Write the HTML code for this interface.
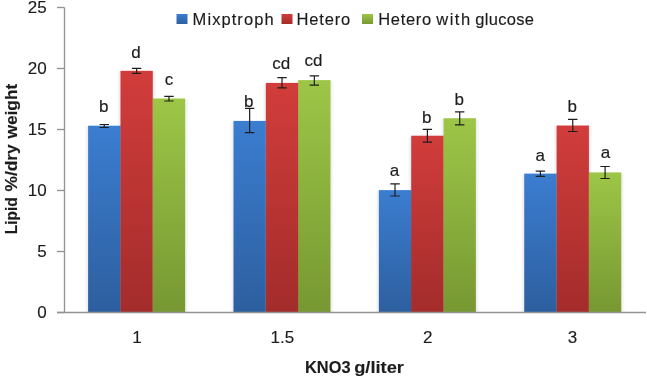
<!DOCTYPE html>
<html><head><meta charset="utf-8"><style>
html,body{margin:0;padding:0;background:#fff;width:647px;height:378px;overflow:hidden}
svg{display:block;will-change:transform}
text{font-family:"Liberation Sans",sans-serif;fill:#1c1c1c;stroke:#1c1c1c;stroke-width:0.15}
.t{opacity:0.995}
</style></head><body>
<svg width="647" height="378" viewBox="0 0 647 378">
<defs>
<linearGradient id="gb" x1="0" y1="0" x2="0" y2="1"><stop offset="0" stop-color="#3b7dd0"/><stop offset="1" stop-color="#2d5f9f"/></linearGradient>
<linearGradient id="gr" x1="0" y1="0" x2="0" y2="1"><stop offset="0" stop-color="#d13d3b"/><stop offset="1" stop-color="#a32c2b"/></linearGradient>
<linearGradient id="gg" x1="0" y1="0" x2="0" y2="1"><stop offset="0" stop-color="#9dc647"/><stop offset="1" stop-color="#779832"/></linearGradient>
<linearGradient id="sl" x1="0" y1="0" x2="1" y2="0"><stop offset="0" stop-color="#e6e4ea" stop-opacity="0"/><stop offset="1" stop-color="#e6e4ea" stop-opacity="0.8"/></linearGradient>
<linearGradient id="sr" x1="0" y1="0" x2="1" y2="0"><stop offset="0" stop-color="#e6e4ea" stop-opacity="0.8"/><stop offset="1" stop-color="#e6e4ea" stop-opacity="0"/></linearGradient>
</defs>

<rect x="84.60" y="126.70" width="3.5" height="185.30" fill="url(#sl)"/>
<rect x="116.95" y="71.80" width="3.5" height="53.90" fill="url(#sl)"/>
<rect x="152.80" y="71.80" width="3.5" height="26.70" fill="url(#sr)"/>
<rect x="185.15" y="99.50" width="3.5" height="212.50" fill="url(#sr)"/>
<rect x="229.97" y="121.90" width="3.5" height="190.10" fill="url(#sl)"/>
<rect x="262.32" y="83.90" width="3.5" height="37.00" fill="url(#sl)"/>
<rect x="294.67" y="81.10" width="3.5" height="1.80" fill="url(#sl)"/>
<rect x="330.52" y="81.10" width="3.5" height="230.90" fill="url(#sr)"/>
<rect x="375.34" y="191.10" width="3.5" height="120.90" fill="url(#sl)"/>
<rect x="407.69" y="136.70" width="3.5" height="53.40" fill="url(#sl)"/>
<rect x="440.04" y="119.20" width="3.5" height="16.50" fill="url(#sl)"/>
<rect x="475.89" y="119.20" width="3.5" height="192.80" fill="url(#sr)"/>
<rect x="520.71" y="174.60" width="3.5" height="137.40" fill="url(#sl)"/>
<rect x="553.06" y="126.50" width="3.5" height="47.10" fill="url(#sl)"/>
<rect x="588.91" y="126.50" width="3.5" height="45.90" fill="url(#sr)"/>
<rect x="621.26" y="173.40" width="3.5" height="138.60" fill="url(#sr)"/>
<defs>
<linearGradient id="g00" gradientUnits="userSpaceOnUse" x1="0" y1="125.70" x2="0" y2="312.50"><stop offset="0" stop-color="#3b7dd0"/><stop offset="1" stop-color="#2d5f9f"/></linearGradient>
<linearGradient id="g01" gradientUnits="userSpaceOnUse" x1="0" y1="70.80" x2="0" y2="312.50"><stop offset="0" stop-color="#d13d3b"/><stop offset="1" stop-color="#a32c2b"/></linearGradient>
<linearGradient id="g02" gradientUnits="userSpaceOnUse" x1="0" y1="98.50" x2="0" y2="312.50"><stop offset="0" stop-color="#9dc647"/><stop offset="1" stop-color="#779832"/></linearGradient>
<linearGradient id="g10" gradientUnits="userSpaceOnUse" x1="0" y1="120.90" x2="0" y2="312.50"><stop offset="0" stop-color="#3b7dd0"/><stop offset="1" stop-color="#2d5f9f"/></linearGradient>
<linearGradient id="g11" gradientUnits="userSpaceOnUse" x1="0" y1="82.90" x2="0" y2="312.50"><stop offset="0" stop-color="#d13d3b"/><stop offset="1" stop-color="#a32c2b"/></linearGradient>
<linearGradient id="g12" gradientUnits="userSpaceOnUse" x1="0" y1="80.10" x2="0" y2="312.50"><stop offset="0" stop-color="#9dc647"/><stop offset="1" stop-color="#779832"/></linearGradient>
<linearGradient id="g20" gradientUnits="userSpaceOnUse" x1="0" y1="190.10" x2="0" y2="312.50"><stop offset="0" stop-color="#3b7dd0"/><stop offset="1" stop-color="#2d5f9f"/></linearGradient>
<linearGradient id="g21" gradientUnits="userSpaceOnUse" x1="0" y1="135.70" x2="0" y2="312.50"><stop offset="0" stop-color="#d13d3b"/><stop offset="1" stop-color="#a32c2b"/></linearGradient>
<linearGradient id="g22" gradientUnits="userSpaceOnUse" x1="0" y1="118.20" x2="0" y2="312.50"><stop offset="0" stop-color="#9dc647"/><stop offset="1" stop-color="#779832"/></linearGradient>
<linearGradient id="g30" gradientUnits="userSpaceOnUse" x1="0" y1="173.60" x2="0" y2="312.50"><stop offset="0" stop-color="#3b7dd0"/><stop offset="1" stop-color="#2d5f9f"/></linearGradient>
<linearGradient id="g31" gradientUnits="userSpaceOnUse" x1="0" y1="125.50" x2="0" y2="312.50"><stop offset="0" stop-color="#d13d3b"/><stop offset="1" stop-color="#a32c2b"/></linearGradient>
<linearGradient id="g32" gradientUnits="userSpaceOnUse" x1="0" y1="172.40" x2="0" y2="312.50"><stop offset="0" stop-color="#9dc647"/><stop offset="1" stop-color="#779832"/></linearGradient>
</defs>
<rect x="88.10" y="125.70" width="32.35" height="186.80" fill="url(#g00)"/>
<rect x="120.35" y="125.70" width="0.9" height="186.80" fill="url(#g00)"/>
<rect x="120.45" y="70.80" width="32.35" height="241.70" fill="url(#g01)"/>
<rect x="152.70" y="98.50" width="0.9" height="214.00" fill="url(#g01)"/>
<rect x="152.80" y="98.50" width="32.35" height="214.00" fill="url(#g02)"/>
<rect x="233.47" y="120.90" width="32.35" height="191.60" fill="url(#g10)"/>
<rect x="265.72" y="120.90" width="0.9" height="191.60" fill="url(#g10)"/>
<rect x="265.82" y="82.90" width="32.35" height="229.60" fill="url(#g11)"/>
<rect x="298.07" y="82.90" width="0.9" height="229.60" fill="url(#g11)"/>
<rect x="298.17" y="80.10" width="32.35" height="232.40" fill="url(#g12)"/>
<rect x="378.84" y="190.10" width="32.35" height="122.40" fill="url(#g20)"/>
<rect x="411.09" y="190.10" width="0.9" height="122.40" fill="url(#g20)"/>
<rect x="411.19" y="135.70" width="32.35" height="176.80" fill="url(#g21)"/>
<rect x="443.44" y="135.70" width="0.9" height="176.80" fill="url(#g21)"/>
<rect x="443.54" y="118.20" width="32.35" height="194.30" fill="url(#g22)"/>
<rect x="524.21" y="173.60" width="32.35" height="138.90" fill="url(#g30)"/>
<rect x="556.46" y="173.60" width="0.9" height="138.90" fill="url(#g30)"/>
<rect x="556.56" y="125.50" width="32.35" height="187.00" fill="url(#g31)"/>
<rect x="588.81" y="172.40" width="0.9" height="140.10" fill="url(#g31)"/>
<rect x="588.91" y="172.40" width="32.35" height="140.10" fill="url(#g32)"/>
<g stroke="#939393" stroke-width="1.35" fill="none">
<line x1="64.5" y1="7.5" x2="64.5" y2="312.5"/>
<line x1="57" y1="312.5" x2="646.0" y2="312.5"/>
<line x1="57" y1="312.5" x2="64.5" y2="312.5"/>
<line x1="57" y1="251.5" x2="64.5" y2="251.5"/>
<line x1="57" y1="190.5" x2="64.5" y2="190.5"/>
<line x1="57" y1="129.5" x2="64.5" y2="129.5"/>
<line x1="57" y1="68.5" x2="64.5" y2="68.5"/>
<line x1="57" y1="7.5" x2="64.5" y2="7.5"/>
</g>
<g stroke="#1e1e1e" stroke-width="1.2" fill="none">
<path d="M104.27 124.50V127.50M99.57 124.50H108.97M99.57 127.50H108.97"/>
<path d="M136.62 68.40V73.30M131.93 68.40H141.32M131.93 73.30H141.32"/>
<path d="M168.98 96.30V101.00M164.28 96.30H173.68M164.28 101.00H173.68"/>
<path d="M249.65 108.40V132.60M244.95 108.40H254.34M244.95 132.60H254.34"/>
<path d="M282.00 77.70V87.80M277.30 77.70H286.69M277.30 87.80H286.69"/>
<path d="M314.35 75.90V85.20M309.65 75.90H319.05M309.65 85.20H319.05"/>
<path d="M395.02 183.90V196.00M390.32 183.90H399.72M390.32 196.00H399.72"/>
<path d="M427.37 129.30V142.20M422.67 129.30H432.07M422.67 142.20H432.07"/>
<path d="M459.72 111.90V124.80M455.02 111.90H464.42M455.02 124.80H464.42"/>
<path d="M540.38 171.10V176.40M535.68 171.10H545.09M535.68 176.40H545.09"/>
<path d="M572.74 119.40V131.50M568.03 119.40H577.44M568.03 131.50H577.44"/>
<path d="M605.09 166.50V178.50M600.38 166.50H609.79M600.38 178.50H609.79"/>
</g>
<g class="t">
<text x="103.77" y="112.30" font-size="17" text-anchor="middle">b</text>
<text x="136.03" y="58.00" font-size="17" text-anchor="middle">d</text>
<text x="168.98" y="84.80" font-size="17" text-anchor="middle">c</text>
<text x="248.65" y="107.00" font-size="17" text-anchor="middle">b</text>
<text x="281.30" y="68.80" font-size="17" text-anchor="middle">cd</text>
<text x="313.45" y="66.20" font-size="17" text-anchor="middle">cd</text>
<text x="394.52" y="175.60" font-size="17" text-anchor="middle">a</text>
<text x="426.77" y="122.60" font-size="17" text-anchor="middle">b</text>
<text x="459.22" y="105.40" font-size="17" text-anchor="middle">b</text>
<text x="540.18" y="160.60" font-size="17" text-anchor="middle">a</text>
<text x="572.13" y="111.70" font-size="17" text-anchor="middle">b</text>
<text x="605.49" y="158.40" font-size="17" text-anchor="middle">a</text>
<text x="46.6" y="317.90" font-size="17" text-anchor="end">0</text>
<text x="46.6" y="256.90" font-size="17" text-anchor="end">5</text>
<text x="46.6" y="195.90" font-size="17" text-anchor="end">10</text>
<text x="46.6" y="134.90" font-size="17" text-anchor="end">15</text>
<text x="46.6" y="73.90" font-size="17" text-anchor="end">20</text>
<text x="46.6" y="12.90" font-size="17" text-anchor="end">25</text>
<text x="137.03" y="343.3" font-size="17" text-anchor="middle">1</text>
<text x="282.39" y="343.3" font-size="17" text-anchor="middle">1.5</text>
<text x="427.77" y="343.3" font-size="17" text-anchor="middle">2</text>
<text x="572.44" y="343.3" font-size="17" text-anchor="middle">3</text>
<text x="305.0" y="372.6" font-size="17" font-weight="bold" stroke-width="0" textLength="45.5" lengthAdjust="spacingAndGlyphs">KNO3</text>
<text x="354.2" y="372.6" font-size="17" font-weight="bold" stroke-width="0" textLength="49.8" lengthAdjust="spacingAndGlyphs">g/liter</text>
<text transform="translate(16.6,234.2) rotate(-90)" font-size="17" font-weight="bold" stroke-width="0" textLength="37.0" lengthAdjust="spacingAndGlyphs">Lipid</text>
<text transform="translate(16.6,191.6) rotate(-90)" font-size="17" font-weight="bold" stroke-width="0" textLength="47.4" lengthAdjust="spacingAndGlyphs">%/dry</text>
<text transform="translate(16.6,138.5) rotate(-90)" font-size="17" font-weight="bold" stroke-width="0" textLength="54.7" lengthAdjust="spacingAndGlyphs">weight</text>
<text x="192.6" y="25" font-size="16.5" textLength="81" lengthAdjust="spacing">Mixptroph</text>
<text x="296.6" y="25" font-size="16.5" textLength="53.5" lengthAdjust="spacing">Hetero</text>
<text x="378.2" y="25" font-size="16.5" textLength="53" lengthAdjust="spacing">Hetero</text>
<text x="436.3" y="25" font-size="16.5" textLength="33.8" lengthAdjust="spacing">with</text>
<text x="475.3" y="25" font-size="16.5" textLength="58.6" lengthAdjust="spacing">glucose</text>
</g>
<rect x="176.5" y="14" width="11" height="10" fill="url(#gb)"/>
<rect x="281.5" y="14" width="11" height="10" fill="url(#gr)"/>
<rect x="362" y="14" width="11" height="10" fill="url(#gg)"/>
</svg>
</body></html>
